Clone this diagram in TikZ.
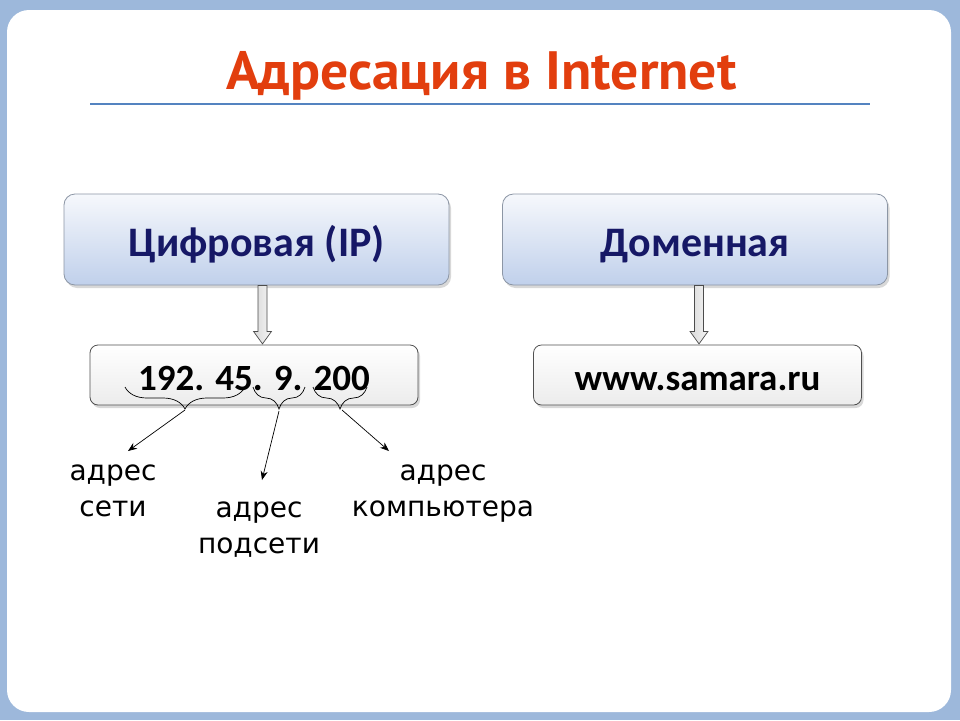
\documentclass[tikz,border=0pt]{standalone}
\usepackage{fontspec}
\usetikzlibrary{shadows,decorations.pathreplacing,calc,arrows.meta}
\newfontfamily\titlefont{PT Sans}
\newfontfamily\calfont{Carlito}
\newfontfamily\lblfont{DejaVu Sans}
\definecolor{framebg}{RGB}{157,184,219}
\definecolor{titlered}{RGB}{226,62,14}
\definecolor{rulebl}{RGB}{84,131,192}
\definecolor{navy}{RGB}{22,24,102}
\definecolor{boxtop}{RGB}{246,248,252}
\definecolor{boxbot}{RGB}{192,208,235}
\definecolor{boxline}{RGB}{140,150,165}
\definecolor{ipline}{RGB}{80,80,80}
\begin{document}
\begin{tikzpicture}[x=1pt,y=1pt,
 topbox/.style={draw=boxline, line width=0.8pt, rounded corners=11pt,
   top color=boxtop, bottom color=boxbot, minimum width=385pt, minimum height=91pt,
   inner sep=0pt, text height=40pt, text depth=6pt,
   font=\calfont\bfseries\fontsize{42}{50}\selectfont, text=navy,
   drop shadow={shadow xshift=2pt, shadow yshift=-3pt, opacity=0.3}},
 valbox/.style={draw=ipline, line width=0.8pt, rounded corners=8pt,
   top color=white, bottom color=gray!15, minimum width=328pt, minimum height=60pt,
   inner sep=0pt, text height=36pt, text depth=6pt,
   font=\calfont\bfseries\fontsize{37}{44}\selectfont, text=black,
   drop shadow={shadow xshift=2pt, shadow yshift=-3pt, opacity=0.3}},
 blockarrow/.style={draw=gray!60!black, line width=0.7pt, left color=gray!30, right color=gray!8},
 bracestyle/.style={decorate, decoration={brace, mirror, amplitude=22pt}, line width=0.7pt},
 ptr/.style={-{Stealth[length=9pt,width=7pt]}, line width=0.7pt},
 lbl/.style={font=\lblfont\fontsize{28}{36}\selectfont, align=center, inner sep=0pt, anchor=north}
]
\useasboundingbox (0,0) rectangle (960,-720);
% frame
\fill[framebg] (0,0) rectangle (960,-720);
\fill[white, rounded corners=22pt] (7,-10) rectangle (951,-712);
% title
\node[anchor=base, font=\titlefont\bfseries\fontsize{54}{64}\selectfont, text=titlered, inner sep=0pt] (title) at (481.5,-89) {\scalebox{1.03}[1]{Адресация в Internet}};
\draw[rulebl, line width=2pt] (90,-104) -- (870,-104);
% top boxes
\node[topbox] (b1) at (256.5,-239.5) {Цифровая (IP)};
\node[topbox] (b2) at (695,-239.5) {Доменная};
% value boxes
\node[valbox] (v1) at (254,-375) {192. 45. 9. 200};
\node[valbox] (v2) at (697.5,-375) {www.samara.ru};
% block arrows
\coordinate (a1) at ($(b1.south)+(6,0)$);
\draw[blockarrow] ($(a1)+(-4.5,0)$) -- ++(0,-46) -- ++(-4.5,0) -- ($(a1)+(0,-58.5)$)
  -- ($(a1)+(9,-46)$) -- ++(-4.5,0) -- ++(0,46) -- cycle;
\coordinate (a2) at ($(b2.south)+(4,0)$);
\draw[blockarrow] ($(a2)+(-4.5,0)$) -- ++(0,-46) -- ++(-4.5,0) -- ($(a2)+(0,-58.5)$)
  -- ($(a2)+(9,-46)$) -- ++(-4.5,0) -- ++(0,46) -- cycle;
% braces
\draw[bracestyle] (125,-387) -- (245,-387);
\draw[bracestyle] (253,-387) -- (305,-387);
\draw[bracestyle] (313,-387) -- (367,-387);
\coordinate (t1) at (185,-410);
\coordinate (t2) at (279,-411);
\coordinate (t3) at (342,-410);
% labels
\node[lbl] (l1) at (113,-465) {адрес\\сети};
\node[lbl] (l2) at (259,-502) {адрес\\подсети};
\node[lbl] (l3) at (443,-465) {адрес\\компьютера};
% pointer arrows
\draw[ptr] (t1) -- ($(l1.north)+(15,14)$);
\draw[ptr] (t2) -- ($(l2.north)+(3,22)$);
\draw[ptr] (t3) -- ($(l3.north)+(-54,14)$);
\end{tikzpicture}
\end{document}
